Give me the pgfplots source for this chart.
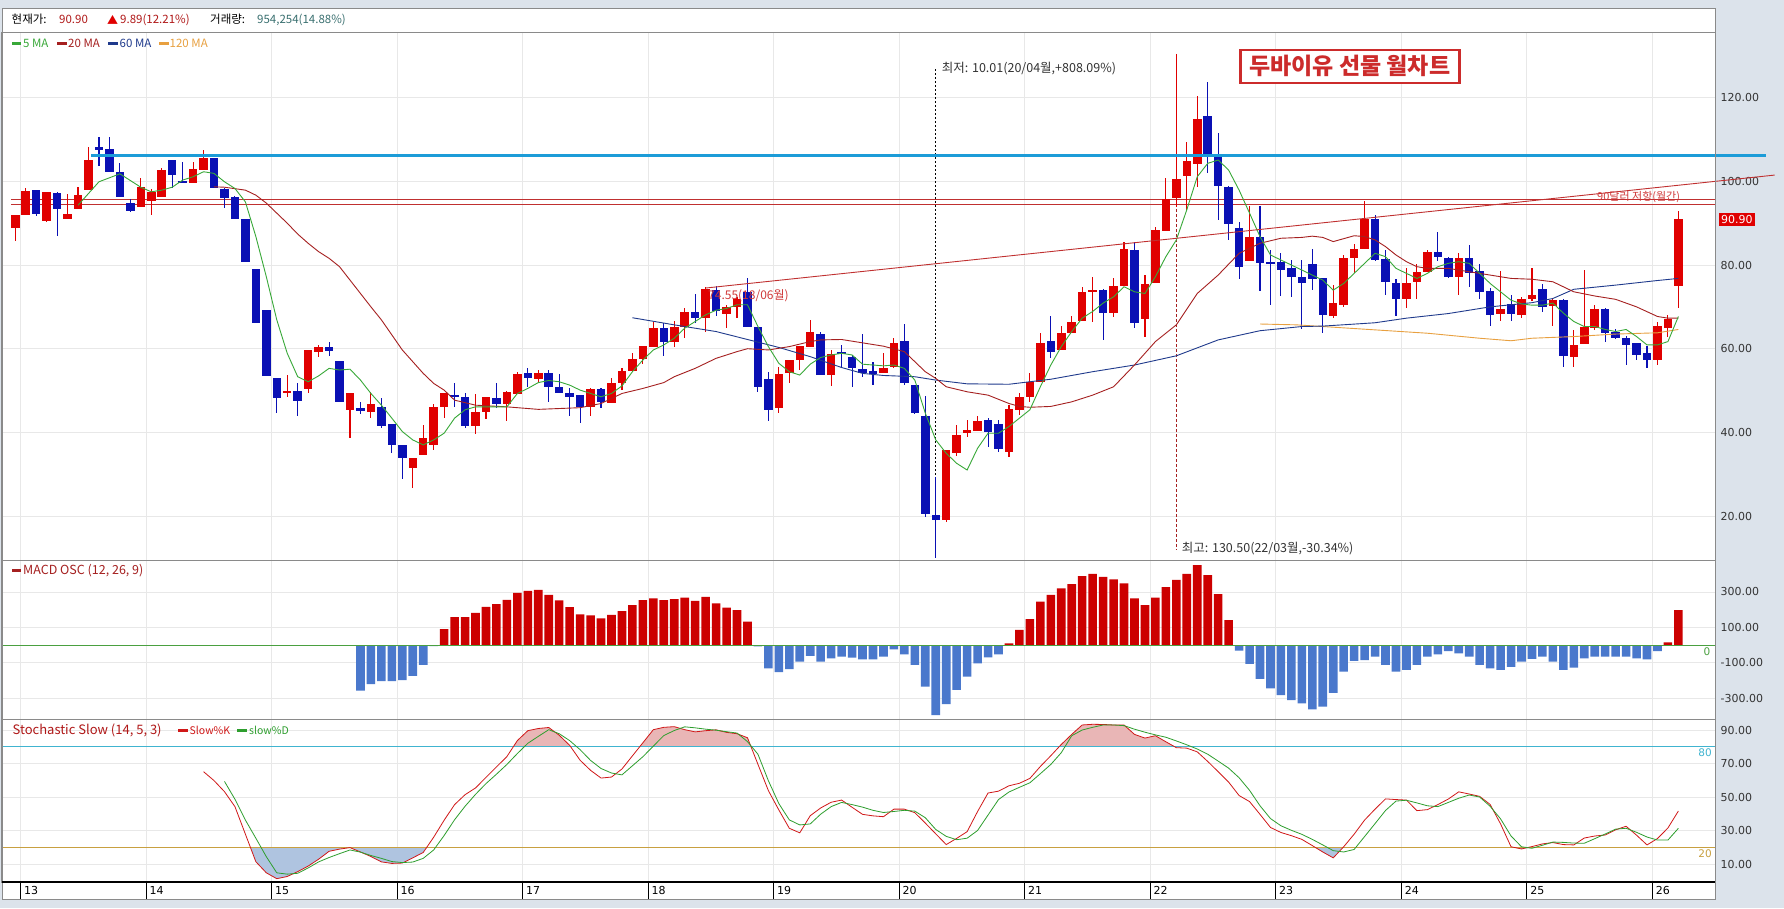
\documentclass[border=0pt]{standalone}
\usepackage{fontspec}
\setmainfont{DejaVu Sans}
\newfontfamily\kr{Noto Sans CJK KR}
\usepackage{pgfplots}
\pgfplotsset{compat=1.18}
\usepackage{pgfplotstable}
\newcommand\fs[1]{\fontsize{#1}{#1}\selectfont}

\definecolor{cred}{HTML}{E00000}
\definecolor{cblue}{HTML}{0A10B4}
\definecolor{ma5}{HTML}{38A838}
\definecolor{ma20}{HTML}{A52020}
\definecolor{ma60}{HTML}{1F3A8C}
\definecolor{ma120}{HTML}{E8A040}
\definecolor{hline}{HTML}{1C9CD8}
\definecolor{rline}{HTML}{C03030}
\definecolor{macdred}{HTML}{CC0000}
\definecolor{macdblue}{HTML}{4A78CC}
\definecolor{gridc}{HTML}{E8E8E8}
\definecolor{bgc}{HTML}{DCE3EB}
\definecolor{framec}{HTML}{8A8A8A}
\definecolor{stk}{HTML}{D01818}
\definecolor{std}{HTML}{2E9E2E}
\definecolor{pinkf}{HTML}{E9B6B6}
\definecolor{bluef}{HTML}{AFC4E0}
\definecolor{cyanl}{HTML}{40B4D0}
\definecolor{goldl}{HTML}{C8A040}
\definecolor{volc}{HTML}{3A7070}
\definecolor{hdrred}{HTML}{B01818}
\definecolor{lblred}{HTML}{D03A3A}
\definecolor{titler}{HTML}{CC2B2B}
\definecolor{tickc}{HTML}{333333}
\definecolor{zeroc}{HTML}{4AA040}

\pgfplotstableread{
i o h l c
0 88.9 92.0 85.8 92.0
1 91.9 98.3 91.9 97.7
3 90.5 97.5 90.3 97.5
5 91.1 96.9 91.1 92.2
6 93.5 98.7 93.5 96.7
7 98.0 108.2 98.0 105.1
12 93.9 100.7 93.9 98.6
13 95.4 98.1 92.0 97.5
14 96.3 103.3 96.3 102.7
17 99.5 104.6 99.5 103.0
18 102.6 107.5 102.6 105.5
26 49.6 53.7 48.5 49.8
28 50.3 59.8 49.5 59.8
29 59.3 61.0 57.9 60.3
32 45.3 49.4 38.6 49.4
34 44.8 49.6 43.5 46.7
38 31.6 33.8 26.6 33.8
39 34.5 41.8 34.5 38.6
40 36.9 46.9 35.9 46.1
41 46.0 49.5 43.4 49.5
44 41.5 49.1 39.6 44.9
45 44.9 48.4 43.1 48.4
47 46.9 49.9 42.6 49.6
48 49.1 54.5 49.1 53.9
50 52.8 55.0 51.9 54.1
55 46.1 50.5 43.9 50.3
57 47.1 52.9 47.1 51.7
58 51.7 55.3 50.1 54.6
59 54.6 59.0 54.6 57.5
60 57.5 60.6 56.3 60.6
61 60.3 66.5 60.3 65.0
63 61.7 66.7 60.5 65.2
64 65.2 69.7 62.5 68.7
66 67.3 74.7 64.1 74.2
68 68.4 70.4 64.9 69.9
69 69.9 72.3 67.3 71.8
73 45.9 55.7 44.7 53.9
74 54.1 57.3 51.7 57.3
75 57.3 60.6 54.9 60.6
76 60.3 66.9 60.3 63.9
78 53.7 59.7 51.1 58.7
83 54.3 58.9 54.3 55.3
84 55.7 62.5 55.3 61.4
89 19.1 35.8 18.5 35.8
90 35.0 41.8 34.4 39.4
91 39.9 43.0 38.8 40.6
92 40.4 43.9 40.4 42.8
95 35.4 46.5 34.2 45.5
96 45.4 49.5 44.2 48.5
97 48.5 54.1 47.3 52.1
98 52.1 63.7 52.1 61.4
100 59.7 65.5 59.7 63.7
101 63.7 67.7 63.7 66.5
102 66.7 74.7 66.7 73.5
103 73.6 77.1 66.5 74.0
105 68.6 76.8 67.5 75.1
106 75.1 85.4 75.1 83.8
108 67.0 77.6 62.7 75.4
109 75.8 89.2 75.8 88.4
110 88.2 100.9 88.2 95.9
111 96.1 130.5 93.8 100.5
112 101.3 109.3 93.2 104.9
113 104.1 120.3 98.7 115.0
118 81.0 94.0 81.0 86.6
126 67.7 75.2 67.3 70.9
127 70.4 82.4 70.0 81.8
128 81.8 85.0 78.0 83.8
129 83.8 95.2 83.8 91.1
133 71.8 79.2 69.7 75.8
134 76.0 80.2 71.8 78.3
135 78.4 83.6 78.4 83.2
138 77.1 82.8 72.8 81.6
142 68.3 78.6 66.7 69.5
144 68.1 72.4 67.3 71.8
145 71.9 79.4 71.5 72.8
147 70.1 71.8 65.5 71.6
149 58.1 64.5 55.6 60.9
150 61.1 78.7 61.1 65.1
151 64.9 70.4 64.5 69.4
157 57.3 66.5 56.1 65.4
158 64.9 68.1 62.9 67.0
159 75.1 92.8 69.7 90.9
}\upC

\pgfplotstableread{
i o h l c
2 97.9 98.0 91.8 92.1
4 97.2 97.4 87.0 93.5
8 107.9 110.5 103.7 107.7
9 107.7 110.7 102.3 102.3
10 102.2 104.3 96.3 96.3
11 94.8 95.7 92.6 92.8
15 105.1 105.1 98.3 101.6
16 99.9 104.6 99.5 99.7
19 105.5 105.5 98.3 98.3
20 98.2 98.4 93.7 96.1
21 96.2 96.4 91.1 91.1
22 90.9 91.1 80.7 80.7
23 79.0 79.0 66.2 66.2
24 69.2 69.2 53.4 53.4
25 52.9 52.9 44.7 48.3
27 49.9 51.9 43.8 47.6
30 60.4 61.6 58.3 59.5
31 57.0 57.0 47.2 47.2
33 45.6 47.2 44.3 45.3
35 46.1 48.1 41.0 41.6
36 41.9 41.9 35.0 37.1
37 36.9 36.9 28.8 33.8
42 48.9 51.7 46.1 48.4
43 48.5 49.5 41.0 41.6
46 48.1 51.9 45.9 46.9
49 54.3 55.3 50.9 52.9
51 54.1 54.8 47.3 50.8
52 50.8 53.9 49.3 49.3
53 49.3 50.5 44.0 48.4
54 48.9 48.9 42.3 46.1
56 50.3 50.5 45.9 47.3
62 65.0 66.2 58.3 61.7
65 68.7 73.0 66.1 67.3
67 74.0 75.1 67.7 68.9
70 73.6 77.0 65.3 65.3
71 65.1 65.1 49.7 50.9
72 52.7 54.5 42.6 45.3
77 63.5 64.1 53.7 53.7
79 59.2 60.9 55.3 58.7
80 57.9 58.5 50.8 55.3
81 55.1 63.4 53.3 54.1
82 54.5 56.9 51.3 54.1
85 61.8 65.9 51.3 51.7
86 51.3 51.3 44.4 44.7
87 44.0 48.7 19.7 20.6
88 20.3 29.3 10.0 19.0
93 43.0 43.4 36.4 40.2
94 42.0 43.0 35.2 36.0
99 61.8 67.8 57.7 59.3
104 74.0 74.2 62.1 68.6
107 83.6 85.6 64.9 66.2
114 115.6 123.8 101.9 105.9
115 105.9 111.5 90.8 98.9
116 98.7 98.9 86.1 89.8
117 88.9 90.4 76.6 79.6
119 86.6 94.0 73.9 80.6
120 80.6 83.6 70.5 80.3
121 80.8 82.8 72.6 78.8
122 79.4 81.2 72.4 77.1
123 77.2 81.2 64.6 75.8
124 80.3 83.8 74.0 76.7
125 76.8 76.8 63.8 68.1
130 90.9 92.0 81.0 81.2
131 81.5 83.6 72.8 76.0
132 75.6 76.6 67.8 71.8
136 83.2 87.8 81.0 82.0
137 81.6 82.0 76.8 77.1
139 81.6 84.8 74.8 78.0
140 78.6 80.2 71.8 73.6
141 73.9 74.4 65.4 68.0
143 70.6 72.8 66.7 68.2
146 74.2 75.5 68.7 69.9
148 71.6 72.0 55.6 58.3
152 69.4 69.7 61.7 63.8
153 64.1 64.6 62.2 62.5
154 62.6 63.0 56.1 60.9
155 61.4 61.4 57.4 58.5
156 59.0 60.6 55.3 57.3
}\dnC

\pgfplotstableread{
i k
18 65.2
19 59.9
20 53.3
21 44.4
22 28.0
23 11.6
24 5.0
25 1.5
26 2.8
27 5.7
28 9.0
29 13.1
30 17.8
31 19.1
32 20.0
33 17.4
34 14.7
35 11.5
36 10.6
37 10.8
38 13.9
39 17.1
40 26.2
41 36.3
42 45.6
43 51.5
44 55.5
45 61.8
46 68.0
47 74.2
48 83.7
49 89.6
50 90.9
51 91.5
52 86.9
53 80.9
54 72.0
55 66.0
56 61.4
57 62.0
58 66.8
59 74.6
60 82.4
61 90.2
62 91.6
63 92.0
64 90.2
65 88.9
66 89.6
67 90.1
68 88.6
69 87.8
70 85.4
71 69.6
72 53.9
73 42.4
74 31.5
75 28.8
76 39.0
77 43.6
78 47.0
79 48.3
80 44.0
81 39.8
82 38.9
83 38.4
84 42.9
85 42.9
86 40.8
87 34.6
88 28.2
89 21.8
90 25.5
91 29.5
92 41.5
93 52.5
94 53.6
95 56.8
96 58.3
97 61.2
98 68.3
99 74.7
100 81.4
101 87.4
102 93.0
103 93.4
104 93.3
105 93.0
106 93.0
107 87.4
108 85.2
109 86.6
110 83.0
111 79.5
112 79.2
113 77.0
114 71.3
115 65.2
116 59.0
117 51.0
118 47.4
119 39.8
120 32.0
121 29.0
122 27.1
123 24.9
124 21.2
125 17.4
126 13.9
127 20.5
128 28.0
129 36.4
130 42.9
131 49.0
132 48.6
133 48.3
134 42.0
135 42.6
136 45.6
137 48.9
138 53.2
139 51.9
140 50.5
141 45.7
142 34.1
143 20.5
144 19.2
145 20.6
146 22.2
147 23.0
148 21.8
149 21.6
150 25.7
151 26.9
152 27.5
153 30.6
154 32.7
155 27.4
156 21.6
157 25.4
158 31.7
159 41.8
}\stK

\pgfplotstableread{
i d
20 59.4
21 48.8
22 36.4
23 25.6
24 14.6
25 5.0
26 4.2
27 4.7
28 7.9
29 11.5
30 14.1
31 16.4
32 18.6
33 17.3
34 15.3
35 13.6
36 11.7
37 11.1
38 11.4
39 13.6
40 18.6
41 27.2
42 36.6
43 44.6
44 51.7
45 58.1
46 63.7
47 69.5
48 76.0
49 82.1
50 86.2
51 90.2
52 87.8
53 83.7
54 78.3
55 71.9
56 67.1
57 64.4
58 63.3
59 68.7
60 74.1
61 80.4
62 86.7
63 89.7
64 91.9
65 91.3
66 90.5
67 89.9
68 89.0
69 88.2
70 83.1
71 75.6
72 59.8
73 46.2
74 36.5
75 33.5
76 34.1
77 39.9
78 44.4
79 46.9
80 45.6
81 44.1
82 42.2
83 40.9
84 41.5
85 42.2
86 41.7
87 37.8
88 30.8
89 26.7
90 24.7
91 25.6
92 30.2
93 39.4
94 48.6
95 53.1
96 55.9
97 58.6
98 64.0
99 69.5
100 76.5
101 86.6
102 90.0
103 91.6
104 93.0
105 93.0
106 92.6
107 90.5
108 88.7
109 87.1
110 85.7
111 83.5
112 81.2
113 78.7
114 75.6
115 71.5
116 67.3
117 61.6
118 54.1
119 44.9
120 37.3
121 33.0
122 30.3
123 27.9
124 24.9
125 21.6
126 18.2
127 17.4
128 18.9
129 26.6
130 34.3
131 42.1
132 47.7
133 48.2
134 46.6
135 44.9
136 44.4
137 46.9
138 49.4
139 51.3
140 50.1
141 44.6
142 37.1
143 26.9
144 20.5
145 19.6
146 21.4
147 23.3
148 23.1
149 22.7
150 22.6
151 25.3
152 28.1
153 31.0
154 31.5
155 29.1
156 26.3
157 24.5
158 24.5
159 31.5
}\stD

\pgfplotsset{
  panel/.style={
    scale only axis, width=1713pt, xmin=-1.27, xmax=162.5,
    anchor=north west, clip=false,
    axis line style={draw=framec, line width=1pt},
    xtick={0.5,12.5,...,156.5}, xticklabels={},
    major tick length=0pt, tick style={draw=none},
    xmajorgrids, ymajorgrids, grid style={gridc, line width=0.7pt},
    yticklabel pos=right,
    yticklabel style={font=\fs{11}, text=tickc, xshift=2pt},
  },
  wick/.style={draw=none, mark=none, error bars/.cd, y dir=both, y explicit,
    error mark=none, error bar style={draw=#1, line width=1.1pt}},
  body/.style={draw=none, mark=none, error bars/.cd, y dir=both, y explicit,
    error mark=none, error bar style={draw=#1, line width=8.5pt}},
}

\begin{document}
\begin{tikzpicture}
\fill[bgc] (0pt,0pt) rectangle (1784pt,-908pt);
\fill[white] (2pt,-8pt) rectangle (1715pt,-899pt);

% ---------------- main price panel ----------------
\begin{axis}[panel, at={(2pt,-32pt)}, height=528pt, ymin=9.49, ymax=135.7,
  ytick={20,40,60,80,100,120},
  yticklabels={20.00,40.00,60.00,80.00,100.00,120.00}]
\addplot[rline, line width=0.9pt] coordinates {(-0.4,95.7) (162.5,95.7)};
\addplot[rline, line width=0.9pt] coordinates {(-0.4,94.5) (162.5,94.5)};
\addplot[black, line width=0.7pt, dash pattern=on 2pt off 2pt] coordinates {(88,126.8) (88,10.0)};
\addplot[ma20, line width=0.7pt, dash pattern=on 3pt off 2pt] coordinates {(111,130.5) (111,11.9)};

\addplot[wick=cred] table[x=i, y expr={(\thisrow{h}+\thisrow{l})/2}, y error expr={(\thisrow{h}-\thisrow{l})/2}] {\upC};
\addplot[wick=cblue] table[x=i, y expr={(\thisrow{h}+\thisrow{l})/2}, y error expr={(\thisrow{h}-\thisrow{l})/2}] {\dnC};
\addplot[body=cred] table[x=i, y expr={(\thisrow{o}+\thisrow{c})/2}, y error expr={max(abs(\thisrow{c}-\thisrow{o})/2,0.3)}] {\upC};
\addplot[body=cblue] table[x=i, y expr={(\thisrow{o}+\thisrow{c})/2}, y error expr={max(abs(\thisrow{c}-\thisrow{o})/2,0.3)}] {\dnC};

% moving averages
\addplot[ma120, line width=0.9pt] coordinates {(119,65.9) (122.5,65.7) (125,65.3) (130,64.5) (135,63.7) (140,62.5) (143,61.9) (145,62.5) (149,62.9) (153,63.5) (157,63.8) (159,64.6)};
\addplot[ma60, line width=0.9pt] coordinates {(59,67.4) (63,65.7) (67,64.1) (70,62.2) (73,60.3) (76,58.1) (79,55.5) (81,54.1) (83,53.6) (86,53.3) (88,52.5) (91,51.6) (95,51.5) (99,52.7) (103,54.5) (107,56.1) (111,58.3) (115,62.1) (119,64.3) (123,65.3) (125,65.4) (130,66.2) (133,67.3) (137,68.4) (141,70.0) (145,71.0) (147,72.0) (149,74.2) (153,75.2) (157,76.3) (159,76.8)};
\addplot[ma20, line width=0.9pt] coordinates {(19,98.7) (20,98.6) (22,97.9) (23,96.7) (24,94.8) (25,92.4) (26,90.0) (27,87.4) (28,85.2) (29,83.2) (30,81.6) (31,79.6) (32,76.4) (33,73.2) (34,70.0) (35,66.9) (36,63.3) (37,59.7) (38,56.9) (39,54.1) (40,51.7) (41,50.1) (42,47.7) (44,46.5) (47,46.1) (50,45.5) (54,45.9) (56,46.9) (58,49.3) (60,50.5) (62,51.9) (63,53.3) (65,55.3) (67,57.7) (69,59.3) (70,60.0) (72,59.7) (74,60.5) (76,61.7) (77,62.1) (79,62.2) (81,61.4) (83,60.6) (85,59.3) (87,54.5) (88,52.9) (89,50.9) (91,49.7) (93,48.9) (95,46.9) (96,46.2) (97,46.0) (99,46.2) (101,47.3) (103,48.9) (105,50.9) (107,56.1) (109,61.7) (111,65.7) (113,73.2) (115,77.6) (117,82.8) (119,85.2) (121,86.4) (123,86.6) (124,86.9) (125,86.6) (126,85.6) (128,87.0) (129,86.8) (130,86.0) (131,84.4) (132,82.4) (133,80.8) (134,79.6) (135,79.2) (137,79.2) (139,78.4) (141,77.6) (143,76.8) (145,76.6) (147,76.0) (148,74.8) (149,73.6) (151,72.6) (153,71.8) (155,70.0) (157,67.7) (158,67.3) (159,67.3)};
\addplot[ma5, line width=0.9pt] coordinates {(6,94.3) (7,97.1) (8,99.9) (10,101.8) (12,98.6) (13,97.5) (14,97.9) (15,98.6) (16,100.3) (17,101.1) (18,102.3) (19,101.9) (20,99.9) (21,98.3) (22,95.1) (23,86.8) (24,77.2) (25,66.9) (26,58.9) (27,53.3) (28,52.1) (29,53.5) (30,55.3) (31,54.9) (32,55.1) (33,52.5) (34,49.3) (35,46.5) (36,43.4) (37,40.2) (38,38.2) (39,37.0) (40,38.2) (41,39.8) (42,43.4) (43,45.4) (44,46.1) (45,46.1) (46,46.1) (47,46.1) (48,49.3) (49,50.5) (50,51.9) (51,52.4) (52,52.1) (53,51.3) (54,50.1) (55,49.3) (56,48.5) (57,49.3) (58,51.1) (59,54.5) (60,57.3) (61,59.7) (62,60.9) (63,62.5) (64,64.9) (65,66.5) (66,68.1) (67,69.2) (68,69.6) (69,70.5) (70,70.5) (71,65.3) (72,60.5) (73,56.5) (74,54.5) (75,53.7) (76,56.3) (77,57.9) (78,58.5) (79,58.9) (80,58.5) (81,56.3) (82,56.1) (83,55.9) (84,56.1) (85,55.3) (86,52.5) (87,44.6) (88,38.2) (89,35.0) (90,32.6) (91,31.0) (92,36.2) (93,39.8) (94,39.8) (95,41.4) (96,43.4) (97,45.4) (98,50.9) (99,56.1) (100,60.5) (101,64.1) (102,67.3) (103,68.9) (104,70.9) (105,72.4) (106,74.8) (107,73.6) (108,73.2) (109,77.2) (110,82.0) (111,86.0) (112,93.2) (113,101.1) (114,104.3) (115,105.1) (116,102.7) (117,97.9) (118,92.4) (119,86.8) (120,82.4) (121,81.2) (122,80.0) (123,78.8) (124,77.6) (125,76.4) (126,74.0) (127,75.6) (128,78.0) (129,80.4) (130,82.8) (131,82.0) (132,79.2) (133,78.0) (134,76.8) (135,78.0) (136,79.6) (137,80.4) (138,80.8) (139,80.4) (140,78.0) (141,75.6) (142,73.6) (143,71.6) (144,70.7) (145,70.4) (146,70.4) (147,70.9) (148,68.5) (149,66.5) (150,65.3) (151,65.3) (152,64.6) (153,64.1) (154,64.6) (155,62.9) (156,60.9) (157,60.9) (158,61.7) (159,67.7)};

% trend line and resistance line
\addplot[rline, line width=0.9pt] coordinates {(66,74.5) (168.2,101.5)};
\addplot[hline, line width=2.8pt] coordinates {(7.24,106.2) (167.4,106.2)};
\end{axis}

% ---------------- MACD panel ----------------
\begin{axis}[panel, at={(2pt,-560pt)}, height=159pt, ymin=-418.5, ymax=480.8,
  ytick={-300,-100,100,300},
  yticklabels={-300.00,-100.00,100.00,300.00}]
\addplot[ybar, bar width=8.6pt, bar shift=0pt, fill=macdred, draw=none] coordinates {(41,90) (42,158) (43,158) (44,182) (45,216) (46,231) (47,255) (48,295) (49,306) (50,312) (51,283) (52,252) (53,214) (54,174) (55,167) (56,151) (57,170) (58,192) (59,226) (60,254) (61,264) (62,254) (63,260) (64,268) (65,249) (66,272) (67,236) (68,211) (69,198) (70,132) (95,9) (96,85) (97,147) (98,245) (99,283) (100,321) (101,345) (102,390) (103,402) (104,386) (105,371) (106,349) (107,264) (108,226) (109,268) (110,328) (111,368) (112,402) (113,452) (114,396) (115,288) (116,141) (158,15) (159,198)};
\addplot[ybar, bar width=8.6pt, bar shift=0pt, fill=macdblue, draw=none] coordinates {(33,-258) (34,-221) (35,-204) (36,-204) (37,-198) (38,-175) (39,-113) (40,-6) (71,-8) (72,-132) (73,-154) (74,-136) (75,-94) (76,-62) (77,-94) (78,-75) (79,-66) (80,-72) (81,-81) (82,-81) (83,-66) (84,-25) (85,-53) (86,-113) (87,-236) (88,-396) (89,-335) (90,-254) (91,-179) (92,-104) (93,-70) (94,-53) (117,-32) (118,-107) (119,-192) (120,-245) (121,-283) (122,-311) (123,-330) (124,-364) (125,-349) (126,-270) (127,-151) (128,-90) (129,-85) (130,-66) (131,-113) (132,-151) (133,-141) (134,-113) (135,-66) (136,-53) (137,-34) (138,-47) (139,-66) (140,-113) (141,-132) (142,-141) (143,-123) (144,-94) (145,-79) (146,-66) (147,-94) (148,-141) (149,-128) (150,-75) (151,-66) (152,-66) (153,-66) (154,-66) (155,-75) (156,-81) (157,-34)};
\addplot[zeroc, line width=1pt] coordinates {(-1.27,0) (162.5,0)};
\end{axis}

% ---------------- Stochastic panel ----------------
\begin{axis}[panel, at={(2pt,-719pt)}, height=163pt, ymin=-0.48, ymax=96.55,
  ytick={10,30,50,70,90},
  yticklabels={10.00,30.00,50.00,70.00,90.00},
  xticklabels={13,14,15,16,17,18,19,20,21,22,23,24,25,26},
  xticklabel style={anchor=north west, font=\fs{11}, text=black, yshift=-1pt}]
\begin{scope}
\clip (axis cs:-1.2,80) rectangle (axis cs:162.4,96.5);
\addplot[fill=pinkf, draw=none] table {\stK} \closedcycle;
\end{scope}
\begin{scope}
\clip (axis cs:-1.2,-0.4) rectangle (axis cs:162.4,20);
\addplot[fill=bluef, draw=none] table {\stK} -- (axis cs:159,95) -- (axis cs:18,95) -- cycle;
\end{scope}
\addplot[cyanl, line width=1pt] coordinates {(-1.27,80) (162.5,80)};
\addplot[goldl, line width=1pt] coordinates {(-1.27,20) (162.5,20)};
\addplot[stk, line width=0.8pt] table {\stK};
\addplot[std, line width=0.8pt] table {\stD};
\end{axis}

% frame and x-axis band
\draw[framec, line width=1pt] (2pt,-8pt) rectangle (1715pt,-899pt);
\draw[black, line width=1.3pt] (2pt,-882pt) -- (1715pt,-882pt);
\foreach \k in {0,...,13} \draw[black, line width=1pt] ({20.51pt+125.52pt*\k},-882pt) -- ++(0pt,-17pt);

% texts
\begin{scope}[every node/.style={inner sep=0pt, anchor=west}]
\node[font=\kr\fs{11.5}] at (11.5pt,-19.5pt) {현재가:};
\node[font=\kr\fs{11.5}, text=hdrred] at (59pt,-19.5pt) {90.90};
\node[font=\kr\fs{11}, text=cred] at (107pt,-19.5pt) {▲};
\node[font=\kr\fs{11.5}, text=hdrred] at (120pt,-19.5pt) {9.89(12.21\%)};
\node[font=\kr\fs{11.5}] at (210pt,-19.5pt) {거래량:};
\node[font=\kr\fs{11.5}, text=volc] at (257pt,-19.5pt) {954,254(14.88\%)};

\fill[ma5] (11.5pt,-41.5pt) rectangle (21pt,-44.5pt);
\node[font=\kr\fs{11.5}, text=ma5] at (23pt,-43pt) {5 MA};
\fill[ma20] (56.5pt,-41.5pt) rectangle (66.5pt,-44.5pt);
\node[font=\kr\fs{11.5}, text=ma20] at (68pt,-43pt) {20 MA};
\fill[ma60] (108pt,-41.5pt) rectangle (118pt,-44.5pt);
\node[font=\kr\fs{11.5}, text=ma60] at (119.5pt,-43pt) {60 MA};
\fill[ma120] (159pt,-41.5pt) rectangle (168.5pt,-44.5pt);
\node[font=\kr\fs{11.5}, text=ma120] at (169.5pt,-43pt) {120 MA};

\fill[ma20] (12pt,-569pt) rectangle (21pt,-572pt);
\node[font=\kr\fs{12.5}, text=ma20] at (23pt,-570.7pt) {MACD OSC (12, 26, 9)};

\node[font=\kr\fs{13}, text=hdrred] at (12.5pt,-730pt) {Stochastic Slow (14, 5, 3)};
\fill[stk] (178pt,-728.5pt) rectangle (188pt,-731.5pt);
\node[font=\kr\fs{10.5}, text=stk] at (189.5pt,-730pt) {Slow\%K};
\fill[std] (237pt,-728.5pt) rectangle (247pt,-731.5pt);
\node[font=\kr\fs{10.5}, text=std] at (249pt,-730pt) {slow\%D};

\node[font=\kr\fs{12.5}, text=tickc] at (941.7pt,-68.3pt) {최저: 10.01(20/04월,+808.09\%)};
\node[font=\kr\fs{12.5}, text=tickc] at (1181.7pt,-548.3pt) {최고: 130.50(22/03월,-30.34\%)};
\node[font=\kr\fs{12}, text=lblred] at (708pt,-296pt) {74.55(18/06월)};
\node[font=\kr\fs{11}, text=lblred] at (1597pt,-196.7pt) {90달러 저항(월간)};

\node[fill=cred, text=white, font=\fs{11}, inner xsep=2pt, inner ysep=2.5pt] at (1719pt,-219.7pt) {90.90};
\node[anchor=center, text=zeroc, font=\fs{10.5}] at (1707pt,-651.5pt) {0};
\node[anchor=center, text=cyanl, font=\fs{10.5}] at (1705pt,-753pt) {80};
\node[anchor=center, text=goldl, font=\fs{10.5}] at (1705pt,-854pt) {20};

\node[anchor=center, draw=titler, line width=2.6pt, fill=white, minimum width=219pt,
  minimum height=33pt, text=titler, font=\kr\bfseries\fs{23}] at (1349.7pt,-66.3pt) {두바이유 선물 월차트};
\end{scope}
\end{tikzpicture}
\end{document}
